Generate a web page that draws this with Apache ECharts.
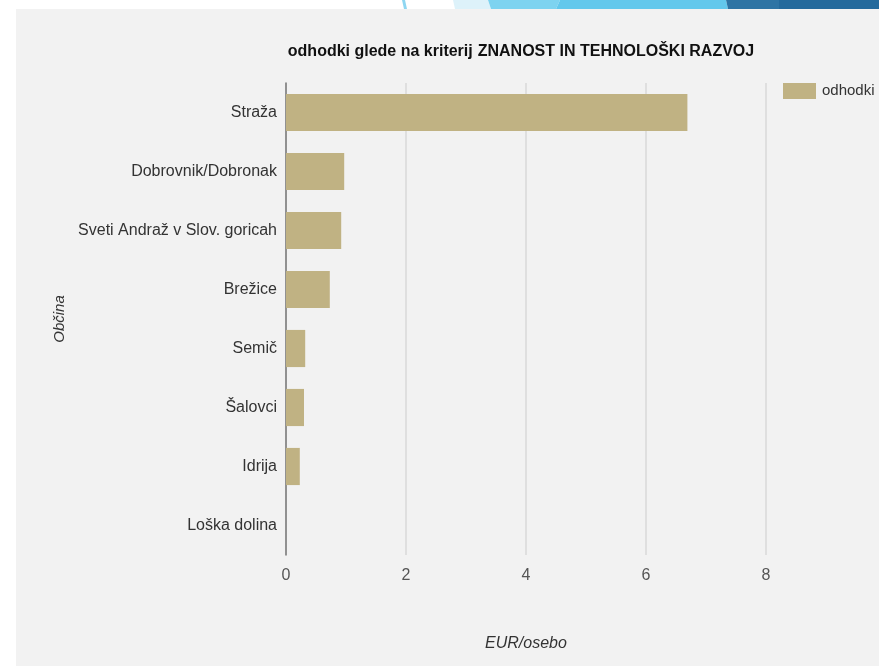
<!DOCTYPE html>
<html>
<head>
<meta charset="utf-8">
<script src="https://cdn.jsdelivr.net/npm/echarts@6/dist/echarts.min.js"></script>
<style>
html,body{margin:0;padding:0;background:#fff;}
#chart{width:879px;height:666px;}
</style>
</head>
<body>
<div id="chart"></div>
<script>
const titleBold = 'odhodki glede na kriterij';
const titleRest = 'ZNANOST IN TEHNOLOŠKI RAZVOJ';
const categories = ['Straža', 'Dobrovnik/Dobronak', 'Sveti Andraž v Slov. goricah', 'Brežice', 'Semič', 'Šalovci', 'Idrija', 'Loška dolina'];
const values = [6.69, 0.97, 0.92, 0.73, 0.32, 0.30, 0.23, 0];
const seriesName = 'odhodki';
const xAxisName = 'EUR/osebo';
const yAxisName = 'Občina';

const chart = echarts.init(document.getElementById('chart'), null, {renderer: 'canvas'});
const F = 'Liberation Sans, Arial, sans-serif';
chart.setOption({
  backgroundColor: '#ffffff',
  textStyle: {fontFamily: F},
  graphic: [
    {type: 'rect', z: -10, silent: true, shape: {x: 16, y: 9, width: 879, height: 670}, style: {fill: '#f2f2f2'}},
    {type: 'polygon', z: -10, silent: true, shape: {points: [[402, 0], [405, 0], [407, 9], [404, 9]]}, style: {fill: '#8fd6f1'}},
    {type: 'polygon', z: -10, silent: true, shape: {points: [[453, 0], [488, 0], [491, 9], [455, 9]]}, style: {fill: '#ddf2fa'}},
    {type: 'polygon', z: -10, silent: true, shape: {points: [[488, 0], [560, 0], [556, 9], [491, 9]]}, style: {fill: '#7dd3f0'}},
    {type: 'polygon', z: -10, silent: true, shape: {points: [[560, 0], [726, 0], [728, 9], [556, 9]]}, style: {fill: '#63c8ec'}},
    {type: 'polygon', z: -10, silent: true, shape: {points: [[726, 0], [779, 0], [779, 9], [728, 9]]}, style: {fill: '#2e74a4'}},
    {type: 'rect', z: -10, silent: true, shape: {x: 779, y: 0, width: 100, height: 9}, style: {fill: '#246a9c'}}
  ],
  title: {
    text: '{b|' + titleBold + '} {n|' + titleRest + '}',
    left: 516,
    top: 38,
    textAlign: 'center',
    textStyle: {
      rich: {
        b: {fontFamily: F, fontSize: 16, fontWeight: 'bold', color: '#111'},
        n: {fontFamily: F, fontSize: 16, fontWeight: 'bold', color: '#111'}
      }
    }
  },
  legend: {
    data: [seriesName],
    left: 783,
    top: 83,
    padding: 0,
    itemWidth: 33,
    itemHeight: 16,
    itemGap: 6,
    icon: 'rect',
    textStyle: {fontFamily: F, fontSize: 15, color: '#333', padding: [3, 0, 0, 1]}
  },
  grid: {left: 286, right: 113, top: 83, bottom: 111, containLabel: false},
  xAxis: {
    type: 'value',
    min: 0,
    max: 8,
    interval: 2,
    name: xAxisName,
    nameLocation: 'middle',
    nameGap: 81,
    nameTextStyle: {fontFamily: F, fontSize: 16, fontStyle: 'italic', color: '#333'},
    axisLine: {show: false},
    axisTick: {show: false},
    axisLabel: {fontFamily: F, fontSize: 16, color: '#555', margin: 13},
    splitLine: {show: true, lineStyle: {color: '#d9d9d9', width: 1.5}}
  },
  yAxis: {
    type: 'category',
    data: categories,
    inverse: true,
    name: yAxisName,
    nameLocation: 'middle',
    nameGap: 218,
    nameRotate: 90,
    nameTextStyle: {fontFamily: F, fontSize: 15, fontStyle: 'italic', color: '#333'},
    axisLine: {show: true, lineStyle: {color: '#777', width: 1.5}},
    axisTick: {show: false},
    axisLabel: {fontFamily: F, fontSize: 16, color: '#333', margin: 9}
  },
  series: [{
    name: seriesName,
    type: 'bar',
    data: values,
    barCategoryGap: '37%',
    itemStyle: {color: '#c0b283'},
    animation: false
  }],
  animation: false
});
</script>
</body>
</html>
